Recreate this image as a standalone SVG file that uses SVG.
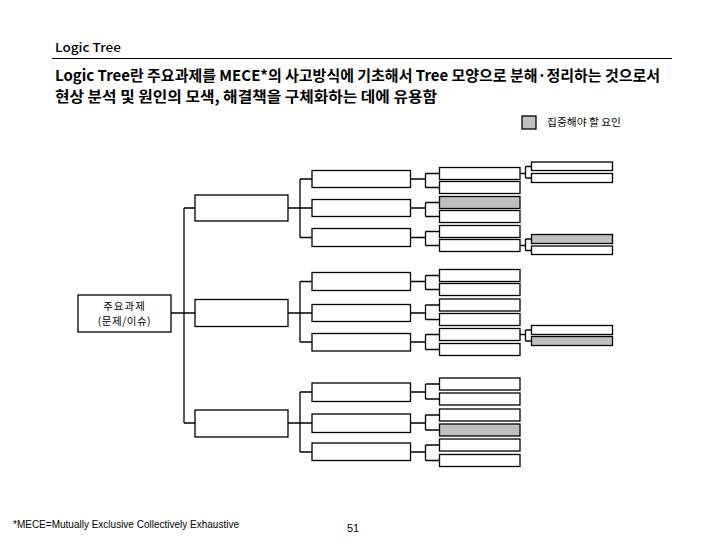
<svg xmlns="http://www.w3.org/2000/svg" width="720" height="540" viewBox="0 0 720 540">
<style>
.b{fill:#fff;stroke:#000;stroke-width:1.3}
.g{fill:#c0c0c0;stroke:#000;stroke-width:1.3}
.c{fill:none;stroke:#000;stroke-width:1.3}
.k{font-family:"Noto Sans CJK KR","Noto Sans",sans-serif;fill:#000}
.s{font-family:"Liberation Sans",Arial,sans-serif;fill:#000}
</style>
<rect width="720" height="540" fill="#fff"/>
<g id="header">
<text class="k" x="55" y="52" font-size="12" font-weight="500" textLength="66" lengthAdjust="spacingAndGlyphs">Logic Tree</text>
<line x1="52" y1="58.5" x2="672" y2="58.5" stroke="#000" stroke-width="1.2"/>
<text class="k" x="55" y="81" font-size="15" font-weight="bold" textLength="605" lengthAdjust="spacingAndGlyphs">Logic Tree란 주요과제를 MECE*의 사고방식에 기초해서 Tree 모양으로 분해·정리하는 것으로서</text>
<text class="k" x="55" y="102" font-size="15" font-weight="bold" textLength="382" lengthAdjust="spacingAndGlyphs">현상 분석 및 원인의 모색, 해결책을 구체화하는 데에 유용함</text>
</g>
<g id="legend">
<rect class="g" x="522" y="116" width="14" height="13"/>
<text class="k" x="547" y="126" font-size="10" textLength="74" lengthAdjust="spacingAndGlyphs">집중해야 할 요인</text>
</g>
<g id="connectors">
<path class="c" d="M171 313H195M184 208V423M184 208H195M184 423H195"/>
<path class="c" d="M288 208H312M300 179V237.5M300 179H312M300 237.5H312"/>
<path class="c" d="M288 313H312M300 281.5V342M300 281.5H312M300 342H312"/>
<path class="c" d="M288 423H312M300 392V452M300 392H312M300 452H312"/>
<path class="c" d="M410.5 179H425.5M425.5 173.5V187.5M425.5 173.5H439.5M425.5 187.5H439.5"/>
<path class="c" d="M410.5 208H425.5M425.5 202.5V216.5M425.5 202.5H439.5M425.5 216.5H439.5"/>
<path class="c" d="M410.5 237.5H425.5M425.5 231.5V245.5M425.5 231.5H439.5M425.5 245.5H439.5"/>
<path class="c" d="M410.5 281.5H425.5M425.5 275.5V289.5M425.5 275.5H439.5M425.5 289.5H439.5"/>
<path class="c" d="M410.5 313H425.5M425.5 305V319.5M425.5 305H439.5M425.5 319.5H439.5"/>
<path class="c" d="M410.5 342H425.5M425.5 334.5V349.5M425.5 334.5H439.5M425.5 349.5H439.5"/>
<path class="c" d="M410.5 392H425.5M425.5 384V399M425.5 384H439.5M425.5 399H439.5"/>
<path class="c" d="M410.5 423H425.5M425.5 415V430M425.5 415H439.5M425.5 430H439.5"/>
<path class="c" d="M410.5 452H425.5M425.5 445V460.5M425.5 445H439.5M425.5 460.5H439.5"/>
<path class="c" d="M520 173.5H525.5M525.5 166.5V178M525.5 166.5H531.5M525.5 178H531.5"/>
<path class="c" d="M520 245.5H525.5M525.5 239V250.5M525.5 239H531.5M525.5 250.5H531.5"/>
<path class="c" d="M520 334.5H525.5M525.5 330V341M525.5 330H531.5M525.5 341H531.5"/>
</g>
<g id="root">
<rect class="b" x="78" y="295" width="93" height="37"/>
<text class="k" x="124.5" y="310" font-size="10.5" text-anchor="middle" letter-spacing="1">주요과제</text>
<text class="k" x="124.5" y="325" font-size="10.5" text-anchor="middle" letter-spacing="0.5">(문제/이슈)</text>
</g>
<g id="level1">
<rect class="b" x="195" y="195" width="93" height="26"/>
<rect class="b" x="195" y="299.5" width="93" height="27"/>
<rect class="b" x="195" y="410" width="93" height="27"/>
</g>
<g id="level2">
<rect class="b" x="312" y="170.5" width="98.5" height="17"/>
<rect class="b" x="312" y="199.5" width="98.5" height="17"/>
<rect class="b" x="312" y="228.5" width="98.5" height="18"/>
<rect class="b" x="312" y="272.5" width="98.5" height="18"/>
<rect class="b" x="312" y="304.5" width="98.5" height="17"/>
<rect class="b" x="312" y="333.5" width="98.5" height="17.5"/>
<rect class="b" x="312" y="383" width="98.5" height="18.5"/>
<rect class="b" x="312" y="414" width="98.5" height="18.5"/>
<rect class="b" x="312" y="443" width="98.5" height="17.5"/>
</g>
<g id="level3">
<rect class="b" x="439.5" y="167.5" width="80.5" height="12"/>
<rect class="b" x="439.5" y="181.5" width="80.5" height="12"/>
<rect class="g" x="439.5" y="196.5" width="80.5" height="12"/>
<rect class="b" x="439.5" y="210.5" width="80.5" height="12"/>
<rect class="b" x="439.5" y="225.5" width="80.5" height="12"/>
<rect class="b" x="439.5" y="239.5" width="80.5" height="12"/>
<rect class="b" x="439.5" y="269.5" width="80.5" height="12"/>
<rect class="b" x="439.5" y="283.5" width="80.5" height="12"/>
<rect class="b" x="439.5" y="299" width="80.5" height="12"/>
<rect class="b" x="439.5" y="313.5" width="80.5" height="12"/>
<rect class="b" x="439.5" y="328.5" width="80.5" height="12"/>
<rect class="b" x="439.5" y="343.5" width="80.5" height="12"/>
<rect class="b" x="439.5" y="378" width="80.5" height="12"/>
<rect class="b" x="439.5" y="393" width="80.5" height="12"/>
<rect class="b" x="439.5" y="409" width="80.5" height="12"/>
<rect class="g" x="439.5" y="424" width="80.5" height="12"/>
<rect class="b" x="439.5" y="439" width="80.5" height="12"/>
<rect class="b" x="439.5" y="454.5" width="80.5" height="12"/>
</g>
<g id="level4">
<rect class="b" x="531.5" y="162" width="81" height="8.5"/>
<rect class="b" x="531.5" y="173.5" width="81" height="9"/>
<rect class="g" x="531.5" y="234.5" width="81" height="9"/>
<rect class="b" x="531.5" y="246" width="81" height="8.5"/>
<rect class="b" x="531.5" y="325.5" width="81" height="9"/>
<rect class="g" x="531.5" y="336.5" width="81" height="9"/>
</g>
<g id="footer">
<text class="s" x="13" y="528" font-size="10" textLength="226" lengthAdjust="spacingAndGlyphs">*MECE=Mutually Exclusive Collectively Exhaustive</text>
<text class="s" x="347" y="532" font-size="11">51</text>
</g>
</svg>
